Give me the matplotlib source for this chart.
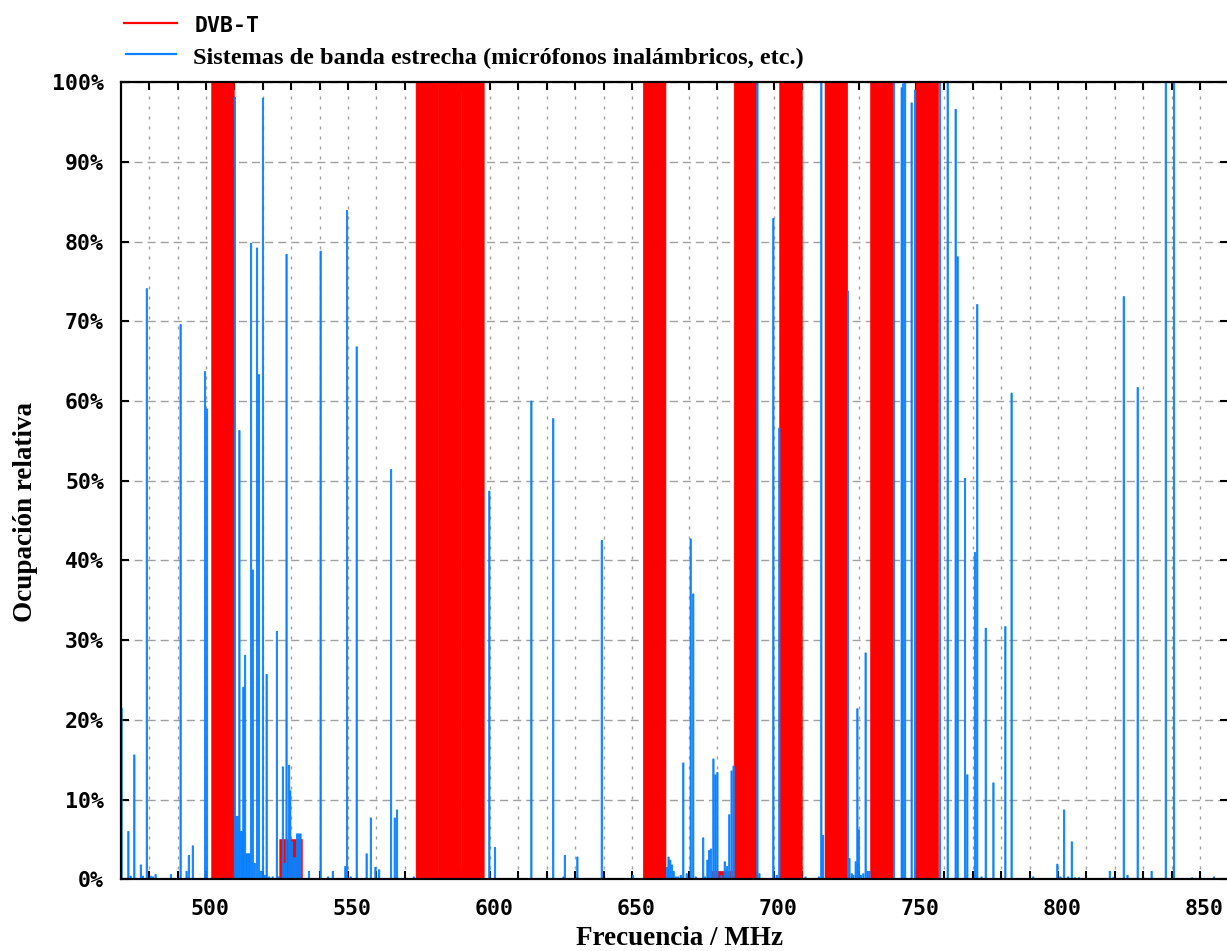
import numpy as np
import matplotlib
matplotlib.use('Agg')
import matplotlib.pyplot as plt
from matplotlib.lines import Line2D
from matplotlib.transforms import ScaledTranslation

# DVB-T channels (lower edge in MHz, 8 MHz wide) and occupancy in %
dvbt_start = [502, 526, 574, 582, 590, 654, 678, 686, 702, 718, 734, 750]
dvbt_occ = [100, 5, 100, 100, 100, 100, 1, 100, 100, 100, 100, 100]

# narrow-band systems: centre frequency (MHz) and occupancy (%)
nb_freq = [470.3, 472.7, 473.5, 474.8, 477.1, 477.8, 479.2, 480.6, 481.4, 482.3,
           487.7, 491.1, 493.2, 494.0, 495.4, 499.7, 500.4,
           510.2, 510.7, 511.2, 511.8, 512.3, 512.8, 513.2, 513.8, 514.3, 514.8,
           515.3, 515.9, 516.5, 517.2, 518.0, 518.7, 519.4, 520.1, 520.7, 521.4,
           522.3, 523.5, 525.0, 525.8, 527.1, 527.7, 528.4, 529.3, 529.7, 530.3,
           530.9, 531.5, 532.1, 532.7, 533.3, 536.3, 540.4, 543.0, 544.7, 549.1,
           549.7, 551.0, 553.1, 556.6, 558.1, 559.7, 561.0, 565.2, 566.5, 567.3,
           573.2, 599.8, 601.8, 614.6, 622.3, 625.9, 626.4, 630.8, 639.4, 650.4,
           662.4, 662.9, 663.5, 664.1, 664.7, 665.5, 666.3, 667.2, 668.1, 669.3,
           670.7, 671.6, 672.5, 675.1, 675.8, 676.6, 677.2, 677.8, 678.7, 679.4,
           680.1, 681.5, 682.7, 683.5, 684.3, 685.1, 685.8, 694.2, 694.9, 699.8,
           701.0, 701.9, 711.1, 715.8, 716.7, 717.3, 726.1, 726.6, 727.4, 728.0,
           728.8, 729.4, 729.9, 730.6, 731.5, 732.3, 733.0, 733.6, 742.3, 745.0,
           745.5, 746.2, 748.5, 749.7, 758.5, 761.2, 764.0, 764.7, 767.3, 768.1,
           770.8, 771.6, 773.1, 774.6, 777.3, 781.5, 783.7, 791.3, 799.8, 800.9,
           802.2, 803.6, 804.9, 806.0, 807.5, 818.3, 819.5, 823.2, 824.5, 828.1,
           833.0, 838.0, 840.9, 847.3, 855.0]
nb_occ = [21.5, 6.0, 0.4, 15.6, 1.8, 0.4, 74.1, 0.4, 0.3, 0.6,
          0.6, 69.6, 1.0, 3.0, 4.2, 63.7, 59.0,
          98.1, 7.9, 7.9, 56.3, 6.0, 6.0, 24.1, 28.1, 3.2, 3.2,
          3.2, 79.8, 38.8, 2.0, 79.2, 63.3, 1.0, 98.0, 0.5, 25.7,
          0.3, 0.3, 31.1, 0.3, 14.1, 2.0, 78.4, 14.3, 11.1, 4.7,
          2.7, 2.7, 5.7, 5.7, 5.7, 1.0, 78.8, 0.3, 1.0, 1.6,
          83.9, 0.3, 66.8, 3.2, 7.7, 1.5, 1.2, 51.4, 7.7, 8.7,
          0.3, 48.7, 4.0, 60.0, 57.8, 0.3, 3.0, 2.8, 42.5, 0.5,
          1.5, 2.8, 2.4, 1.8, 1.0, 0.3, 0.3, 0.5, 14.6, 0.7,
          42.7, 35.8, 0.3, 5.2, 0.3, 2.4, 3.6, 3.8, 15.1, 13.1,
          13.4, 0.5, 2.2, 1.6, 8.1, 13.6, 14.2, 100, 0.7, 82.9,
          0.5, 56.6, 0.3, 0.3, 100, 5.5, 73.8, 2.6, 0.7, 0.5,
          2.2, 21.4, 6.2, 0.5, 0.7, 28.4, 1.0, 1.0, 100, 99.3,
          99.8, 100, 97.4, 99.0, 100, 100, 96.6, 78.1, 50.3, 13.1,
          41.0, 72.1, 0.3, 31.5, 12.1, 31.7, 61.0, 0.3, 1.9, 0.3,
          8.7, 0.3, 4.7, 0.2, 0.2, 1.0, 0.2, 73.1, 0.5, 61.7,
          1.0, 100, 100, 0.2, 0.3]

red = '#ff0000'
blue = '#0a80ff'
tick_font = 'DejaVu Sans Mono'
serif = ['Liberation Serif', 'DejaVu Serif']

fig = plt.figure(figsize=(12.27, 9.51), dpi=100)
ax = fig.add_axes([120.7 / 1227, 1 - 879.3 / 951, 1107.6 / 1227, 797.1 / 951])

ax.bar(dvbt_start, dvbt_occ, width=8, align='edge', color=red,
       edgecolor=red, linewidth=0.4, snap=False, zorder=2)
ax.bar(nb_freq, nb_occ, width=0.45, color=blue, edgecolor=blue,
       linewidth=0.6, snap=False, zorder=3)

ax.set_xlim(470, 860)
ax.set_ylim(0, 100)

xt = np.arange(480, 860, 10)
ax.set_xticks(xt)
ax.set_xticklabels([str(v) if v % 50 == 0 else '' for v in xt])
yt = np.arange(0, 101, 10)
ax.set_yticks(yt)
ax.set_yticklabels(['%d%%' % v for v in yt])

ax.tick_params(axis='both', which='major', direction='in', length=6, width=1.5,
               top=True, right=True, colors='black')
ax.tick_params(axis='x', pad=14.5)
ax.tick_params(axis='y', pad=12)
for lbl in ax.get_xticklabels() + ax.get_yticklabels():
    lbl.set_fontfamily(tick_font)
    lbl.set_fontweight('bold')
    lbl.set_fontsize(15.5)
off = ScaledTranslation(4 / 100, 0, fig.dpi_scale_trans)
for lbl in ax.get_xticklabels():
    lbl.set_transform(lbl.get_transform() + off)

ax.set_axisbelow(True)
ax.xaxis.grid(True, color='#a0a0a0', linewidth=1.0, linestyle=(0, (2.2, 5)))
ax.yaxis.grid(True, color='#a0a0a0', linewidth=1.0, linestyle=(0, (5.8, 3.6)))

for s in ax.spines.values():
    s.set_linewidth(1.6)
    s.set_color('black')
    s.set_zorder(5)

# axis titles
fig.text(680 / 1227, 1 - 945 / 951, 'Frecuencia / MHz', ha='center', va='baseline',
         fontsize=19.5, fontweight='bold', family=serif)
fig.text(26 / 1227, 1 - 512.5 / 951, 'Ocupación relativa', ha='center', va='center',
         rotation=90, fontsize=19.5, fontweight='bold', family=serif)

# legend drawn above the plot area
fig.add_artist(Line2D([124 / 1227, 177 / 1227], [1 - 22.7 / 951] * 2, color=red, lw=1.6))
fig.add_artist(Line2D([126 / 1227, 176 / 1227], [1 - 54.3 / 951] * 2, color=blue, lw=1.6))
fig.text(195 / 1227, 1 - 32.3 / 951, 'DVB-T', ha='left', va='baseline',
         fontsize=15.5, fontweight='bold', family=tick_font)
fig.text(193 / 1227, 1 - 64.3 / 951,
         'Sistemas de banda estrecha (micrófonos inalámbricos, etc.)',
         ha='left', va='baseline', fontsize=17.5, fontweight='bold', family=serif)

fig.savefig('out.png', dpi=100)
